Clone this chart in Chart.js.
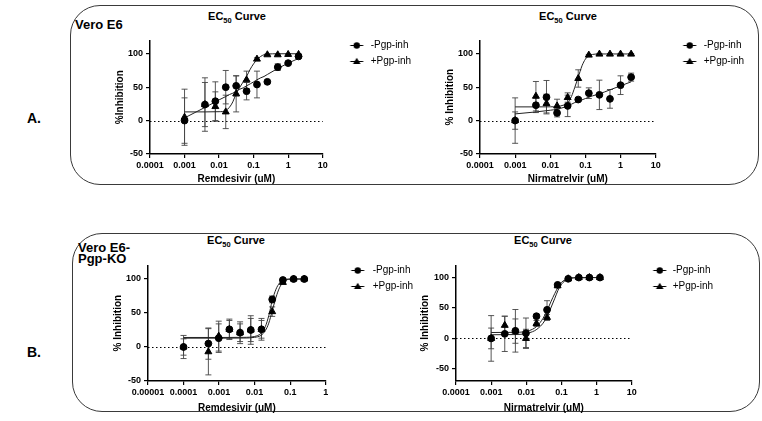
<!DOCTYPE html>
<html>
<head>
<meta charset="utf-8">
<script src="https://cdn.jsdelivr.net/npm/chart.js@4.4.1/dist/chart.umd.min.js"></script>
<style>
  body { margin: 0; width: 762px; height: 421px; background: #fff; position: relative; overflow: hidden;
         font-family: "Liberation Sans", Arial, sans-serif; color: #000; }
  .box { position: absolute; border: 1.3px solid #3a3a3a; border-radius: 30px; box-sizing: border-box; }
  .lbl { position: absolute; font-weight: bold; white-space: nowrap; }
  .ttl { position: absolute; width: 200px; text-align: center; font-weight: bold; font-size: 11px; line-height: 12px; }
  .ttl sub { font-size: 7.5px; line-height: 0; }
  canvas { position: absolute; }
</style>
</head>
<body>
<div class="box" style="left:70px;top:5px;width:689px;height:180px"></div>
<div class="box" style="left:72px;top:233px;width:688px;height:179px"></div>
<div class="lbl" style="left:27px;top:110px;font-size:14px">A.</div>
<div class="lbl" style="left:27px;top:344px;font-size:14px">B.</div>
<div class="lbl" style="left:75px;top:17px;font-size:13px">Vero E6</div>
<div class="lbl" style="left:78px;top:242px;font-size:13px;line-height:11px">Vero E6-<br>Pgp-KO</div>
<div class="ttl" style="left:137px;top:10px">EC<sub>50</sub> Curve</div>
<div class="ttl" style="left:468px;top:10px">EC<sub>50</sub> Curve</div>
<div class="ttl" style="left:136px;top:234px">EC<sub>50</sub> Curve</div>
<div class="ttl" style="left:443px;top:234px">EC<sub>50</sub> Curve</div>
<canvas id="c1"></canvas>
<canvas id="c2"></canvas>
<canvas id="c3"></canvas>
<canvas id="c4"></canvas>
<script>
// ---- data ----
const seriesNames = ['-Pgp-inh', '+Pgp-inh'];
const yTicks = [-50, 0, 50, 100];
const yTickLabels = ['-50', '0', '50', '100'];

// A. Vero E6, Remdesivir
const remE6Conc = [0.001, 0.0039, 0.0078, 0.0156, 0.03125, 0.0625, 0.125, 0.25, 0.5, 1, 2];
const remE6Minus = [0, 24, 29, 50, 52, 44, 54, 58, 80, 86, 96];
const remE6MinusSd = [34, 40, 29, 25, 15, 13, 20, 0, 5, 2, 2];
const remE6Plus = [5, 24, 21, 13, 40, 61, 92, 98.5, 98.5, 99, 99];
const remE6PlusSd = [42, 33, 22, 25, 27, 13, 2, 1, 1, 1, 1];
const remE6FitX = [0.001, 0.004, 0.01, 0.0156, 0.02, 0.025, 0.031, 0.04, 0.05, 0.0625, 0.08, 0.1, 0.125, 0.16, 0.2, 0.25, 0.5, 1, 2];
const remE6FitMinus = [4, 20, 31, 36, 39, 41, 44, 47, 49, 52, 55, 58, 61, 64, 66, 69, 78, 86, 93];
const remE6FitPlus = [13, 13, 13.3, 15, 20, 28, 40, 50, 58, 66, 77, 85, 91, 96, 98.5, 99.5, 100, 100, 100];

// A. Vero E6, Nirmatrelvir
const nirE6Conc = [0.001, 0.0039, 0.0078, 0.0156, 0.03125, 0.0625, 0.125, 0.25, 0.5, 1, 2];
const nirE6Minus = [0, 23, 35, 11.5, 22, 31.5, 41, 38.5, 32.5, 53, 65];
const nirE6MinusSd = [34, 11, 25, 6, 16, 3, 8, 22, 14, 14, 6];
const nirE6Plus = [0, 36.5, 25.5, 22, 34.5, 63, 98, 99.5, 99.5, 99.5, 99.5];
const nirE6PlusSd = [13, 22, 14, 10, 7, 13, 1, 1, 1, 1, 1];
const nirE6FitX = [0.001, 0.004, 0.01, 0.0156, 0.02, 0.025, 0.031, 0.04, 0.05, 0.0625, 0.08, 0.1, 0.125, 0.16, 0.25, 0.5, 1, 2];
const nirE6FitMinus = [10, 13, 15.5, 17, 18.5, 20, 22, 24.5, 27, 29, 31, 33, 35, 37, 40, 46, 52, 58];
const nirE6FitPlus = [20.5, 20.5, 20.6, 21, 22, 23.5, 26, 36, 50, 65, 82, 92, 97, 99, 99.7, 99.7, 99.7, 99.7];

// B. Vero E6-Pgp-KO, Remdesivir
const remKoConc = [0.0001, 0.0005, 0.000977, 0.00195, 0.0039, 0.0078, 0.0156, 0.03125, 0.0625, 0.125, 0.25];
const remKoMinus = [0, 5, 13, 26, 21, 25, 26, 70, 98.5, 100, 100];
const remKoMinusSd = [17, 23, 21, 15, 16, 21, 16, 5, 1, 1, 1];
const remKoPlus = [0, -7, 16, 26, 21, 25, 26, 52, 95, 100, 100];
const remKoPlusSd = [12, 34, 22, 13, 13, 17, 13, 7, 1, 1, 1];
const remKoFitX = [0.0001, 0.001, 0.005, 0.01, 0.015, 0.02, 0.025, 0.03125, 0.04, 0.05, 0.0625, 0.08, 0.125, 0.25];
const remKoFitMinus = [14, 14, 14.2, 15.5, 20, 30, 46, 68, 85, 94, 98.5, 99.8, 100, 100];
const remKoFitPlus = [13, 13, 13.2, 14.2, 17, 24, 35, 53, 73, 87, 95, 98.8, 100, 100];

// B. Vero E6-Pgp-KO, Nirmatrelvir
const nirKoConc = [0.001, 0.00244, 0.0049, 0.0098, 0.0195, 0.039, 0.078, 0.156, 0.3125, 0.625, 1.25];
const nirKoMinus = [0, 7.5, 12.5, 8.5, 36.5, 47, 88, 98, 100, 100, 100];
const nirKoMinusSd = [37.5, 29, 35, 25, 3, 15, 2, 1, 1, 1, 1];
const nirKoPlus = [0, 21.5, 12, 0, 24.5, 34.5, 86.5, 98, 100, 100, 100];
const nirKoPlusSd = [17, 15, 20, 15, 5, 5, 2, 1, 1, 1, 1];
const nirKoFitX = [0.001, 0.005, 0.01, 0.015, 0.02, 0.03, 0.04, 0.05, 0.065, 0.08, 0.1, 0.15, 0.25, 1.25];
const nirKoFitMinus = [9.7, 10, 11.5, 15, 20, 33, 47, 60, 74, 84, 92, 98, 99.8, 100];
const nirKoFitPlus = [6, 6.3, 8, 11, 15, 25, 37, 50, 66, 79, 89, 97, 99.6, 100];

const xTicksA = [0.0001, 0.001, 0.01, 0.1, 1, 10];
const xLabelsA = ['0.0001', '0.001', '0.01', '0.1', '1', '10'];
const xTicksKo = [0.00001, 0.0001, 0.001, 0.01, 0.1, 1];
const xLabelsKo = ['0.00001', '0.0001', '0.001', '0.01', '0.1', '1'];

Chart.defaults.font.family = "'Liberation Sans', Arial, sans-serif";
Chart.defaults.color = '#000';

// dotted line at 0 %
const zeroLine = {
  id: 'zeroLine',
  beforeDatasetsDraw(chart) {
    const {ctx, chartArea: a, scales: {y}} = chart;
    const py = Math.round(y.getPixelForValue(0)) + 0.5;
    ctx.save();
    ctx.setLineDash([1.5, 2.5]);
    ctx.lineWidth = 1.2;
    ctx.strokeStyle = '#000';
    ctx.beginPath();
    ctx.moveTo(a.left, py);
    ctx.lineTo(a.right, py);
    ctx.stroke();
    ctx.restore();
  }
};

// SD error bars, taken from dataset.errs
const errorBars = {
  id: 'errorBars',
  beforeDatasetsDraw(chart) {
    const {ctx, scales: {y}} = chart;
    ctx.save();
    ctx.strokeStyle = '#444';
    ctx.lineWidth = 0.9;
    chart.data.datasets.forEach((ds, i) => {
      if (!ds.errs) return;
      chart.getDatasetMeta(i).data.forEach((pt, j) => {
        const e = ds.errs[j];
        if (!e) return;
        const top = y.getPixelForValue(ds.data[j].y + e);
        const bot = y.getPixelForValue(ds.data[j].y - e);
        ctx.beginPath();
        ctx.moveTo(pt.x, top); ctx.lineTo(pt.x, bot);
        ctx.moveTo(pt.x - 3, top); ctx.lineTo(pt.x + 3, top);
        ctx.moveTo(pt.x - 3, bot); ctx.lineTo(pt.x + 3, bot);
        ctx.stroke();
      });
    });
    ctx.restore();
  }
};

// legend symbol: short line with marker, like Prism
function legendIcon(shape, w, dx) {
  const c = document.createElement('canvas');
  c.width = w; c.height = 10;
  const g = c.getContext('2d');
  const cx = w / 2 + dx;
  g.strokeStyle = '#000';
  g.lineWidth = 1;
  g.beginPath(); g.moveTo(cx - 6.5, 5.5); g.lineTo(cx + 6.5, 5.5); g.stroke();
  g.fillStyle = '#000';
  g.beginPath();
  if (shape === 'circle') g.arc(cx, 5.5, 3.2, 0, Math.PI * 2);
  else { g.moveTo(cx, 1.8); g.lineTo(cx + 3.8, 8); g.lineTo(cx - 3.8, 8); g.closePath(); }
  g.fill();
  return c;
}

const pts = (xs, ys) => xs.map((x, i) => ({x: x, y: ys[i]}));

function drawPanel(p) {
  const cv = document.getElementById(p.id);
  cv.width = p.w; cv.height = p.h;
  cv.style.left = p.left + 'px';
  cv.style.top = p.top + 'px';
  const icons = [legendIcon('circle', p.legW, p.legD), legendIcon('triangle', p.legW, p.legD)];
  const axisGrid = {drawOnChartArea: false, drawTicks: true, tickLength: 4, color: '#000', lineWidth: 1.2};
  const axisBorder = {display: true, color: '#000', width: 1.5};
  const tickFont = {size: 9, weight: 'bold'};

  new Chart(cv, {
    type: 'scatter',
    data: {
      datasets: [
        {label: seriesNames[0], data: pts(p.conc, p.minus), errs: p.minusSd, pointStyle: 'circle',
         pointRadius: 3.4, backgroundColor: '#000', borderColor: '#000'},
        {label: seriesNames[1], data: pts(p.conc, p.plus), errs: p.plusSd, pointStyle: 'triangle',
         pointRadius: 4, backgroundColor: '#000', borderColor: '#000'},
        {label: 'fit-', data: pts(p.fitX, p.fitMinus), showLine: true, pointRadius: 0,
         borderColor: '#222', borderWidth: 1, cubicInterpolationMode: 'monotone'},
        {label: 'fit+', data: pts(p.fitX, p.fitPlus), showLine: true, pointRadius: 0,
         borderColor: '#222', borderWidth: 1, cubicInterpolationMode: 'monotone'}
      ]
    },
    options: {
      responsive: false,
      animation: false,
      devicePixelRatio: 1,
      layout: {padding: {top: 2, left: 0, right: 0, bottom: 0}},
      plugins: {
        title: {display: true, text: '', font: {size: 3, lineHeight: 1}, padding: 0},
        tooltip: {enabled: false},
        legend: {
          position: 'right', align: 'start', maxWidth: 200,
          labels: {
            usePointStyle: true, pointStyleWidth: p.legW, padding: 6, color: '#000', font: {size: 10},
            filter: item => item.datasetIndex < 2,
            generateLabels: chart => Chart.defaults.plugins.legend.labels.generateLabels(chart)
              .map(l => Object.assign(l, {pointStyle: icons[l.datasetIndex] || l.pointStyle}))
          }
        }
      },
      scales: {
        x: {
          type: 'logarithmic', min: p.xTicks[0], max: p.xTicks[p.xTicks.length - 1],
          afterBuildTicks: s => { s.ticks = p.xTicks.map(v => ({value: v})); },
          afterFit: s => { s.height = p.xH; },
          ticks: {autoSkip: false, maxRotation: 0, padding: 2, color: '#000', font: tickFont,
                  callback: (v, i) => p.xLabels[i]},
          grid: axisGrid,
          border: axisBorder,
          title: {display: true, text: p.xTitle, color: '#000', font: {size: 10, weight: 'bold'},
                  padding: {top: 0, bottom: 5}}
        },
        y: {
          min: p.yMin, max: 120,
          afterBuildTicks: s => { s.ticks = yTicks.map(v => ({value: v})); },
          afterFit: s => { s.width = p.yW; },
          ticks: {padding: 3, color: '#000', font: tickFont, callback: (v, i) => yTickLabels[i]},
          grid: axisGrid,
          border: axisBorder,
          title: {display: true, text: p.yTitle, color: '#000', font: {size: 10, weight: 'bold'},
                  padding: {top: p.yTitlePad, bottom: 0}}
        }
      }
    },
    plugins: [zeroLine, errorBars]
  });
}

drawPanel({id: 'c1', left: 95, top: 32, w: 326, h: 158, yW: 55, xH: 36, yTitlePad: 19, legW: 37, legD: 9.5,
  conc: remE6Conc, minus: remE6Minus, minusSd: remE6MinusSd, plus: remE6Plus, plusSd: remE6PlusSd,
  fitX: remE6FitX, fitMinus: remE6FitMinus, fitPlus: remE6FitPlus,
  xTicks: xTicksA, xLabels: xLabelsA, yMin: -50, xTitle: 'Remdesivir (uM)', yTitle: '%Inhibition'});

drawPanel({id: 'c2', left: 425, top: 32, w: 329, h: 158, yW: 55, xH: 36, yTitlePad: 19, legW: 37, legD: 9.5,
  conc: nirE6Conc, minus: nirE6Minus, minusSd: nirE6MinusSd, plus: nirE6Plus, plusSd: nirE6PlusSd,
  fitX: nirE6FitX, fitMinus: nirE6FitMinus, fitPlus: nirE6FitPlus,
  xTicks: xTicksA, xLabels: xLabelsA, yMin: -50, xTitle: 'Nirmatrelvir (uM)', yTitle: '% Inhibition'});

drawPanel({id: 'c3', left: 93, top: 257, w: 330, h: 162, yW: 55, xH: 38, yTitlePad: 19, legW: 36, legD: 8,
  conc: remKoConc, minus: remKoMinus, minusSd: remKoMinusSd, plus: remKoPlus, plusSd: remKoPlusSd,
  fitX: remKoFitX, fitMinus: remKoFitMinus, fitPlus: remKoFitPlus,
  xTicks: xTicksKo, xLabels: xLabelsKo, yMin: -50, xTitle: 'Remdesivir (uM)', yTitle: '% Inhibition'});

drawPanel({id: 'c4', left: 400, top: 257, w: 323, h: 162, yW: 56, xH: 38, yTitlePad: 19, legW: 30, legD: 7,
  conc: nirKoConc, minus: nirKoMinus, minusSd: nirKoMinusSd, plus: nirKoPlus, plusSd: nirKoPlusSd,
  fitX: nirKoFitX, fitMinus: nirKoFitMinus, fitPlus: nirKoFitPlus,
  xTicks: xTicksA, xLabels: xLabelsA, yMin: -70, xTitle: 'Nirmatrelvir (uM)', yTitle: '% Inhibition'});
</script>
</body>
</html>
